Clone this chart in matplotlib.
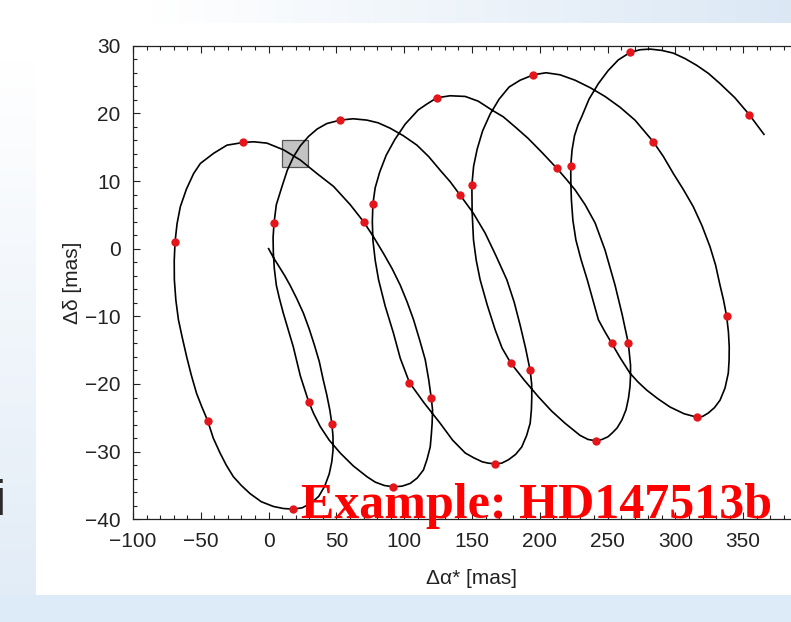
import numpy as np
import matplotlib
matplotlib.use('Agg')
import matplotlib.pyplot as plt
from matplotlib.patches import Rectangle
from matplotlib.ticker import MultipleLocator

# sky path of the star, in mas
path_x = [0.0, 3.8, 7.9, 11.9, 15.8, 20.8, 25.6, 30.0, 33.7, 37.4, 40.3, 42.9, 45.1, 46.7, 47.5, 47.5, 46.6,
          44.7, 41.4, 37.0, 31.5, 24.8, 17.8,
          10.8, 3.5, -5.4, -13.7, -20.1, -26.0, -31.2, -35.8, -40.8, -45.0, -49.2, -53.1, -57.0, -60.4, -63.6,
          -66.5, -68.4, -69.5, -69.6, -69.0, -67.5, -65.1, -60.6, -55.3, -50.3, -40.5, -30.7, -18.6, -11.1, -1.2,
          11.1, 23.4, 35.7, 47.9, 60.2, 70.0, 77.2, 84.7, 91.2, 97.1, 102.2, 106.9, 111.4, 115.5, 118.1, 119.9,
          120.9, 120.6, 120.0, 119.2, 116.9, 114.2, 109.6, 104.4, 98.5, 92.1,
          85.3, 78.6, 72.5, 62.4, 52.8, 44.7, 38.1, 33.3, 29.5, 23.4, 18.2, 14.5, 10.8, 7.9, 5.7, 4.2, 3.5, 3.3,
          4.0, 5.7, 9.9, 13.8, 18.4, 23.4, 29.5, 35.9, 43.0, 52.8, 62.4, 72.5, 80.8, 89.7, 99.3, 109.4, 118.1,
          126.5, 133.9, 141.3, 150.8, 159.7, 167.8, 175.7, 181.1, 185.5, 189.5, 192.9, 194.0, 194.1, 193.8,
          192.9, 190.3, 186.7, 182.2, 176.9, 171.9, 167.1,
          161.9, 157.5, 151.2, 145.0, 135.7, 126.5, 114.7, 103.9, 97.1, 92.1, 86.0, 81.1, 78.6, 76.9, 76.5, 76.9,
          78.6, 81.9, 86.7, 93.0, 100.7, 110.3, 116.9, 124.1, 133.9, 145.0, 154.6, 164.6, 173.0, 181.8, 191.4,
          201.7, 212.5, 219.4, 226.0, 233.4, 240.8, 248.1, 255.5, 260.7, 265.3, 266.9, 266.9, 266.5, 265.4,
          263.6, 260.6, 257.0, 253.6, 250.3, 245.9, 241.5,
          235.6, 229.7, 218.6, 208.7, 199.0, 188.4, 178.6, 172.2, 167.1, 161.2, 156.0, 153.1, 151.1, 150.1, 149.9,
          151.2, 153.8, 157.8, 163.4, 170.0, 177.4, 185.5, 195.3, 204.6, 214.9, 226.0, 237.1, 248.1, 259.2, 270.2,
          283.7, 291.2, 298.5, 306.0, 313.2, 319.6, 325.5, 329.6, 332.9, 335.5, 337.8, 339.1, 339.7, 339.6,
          339.0, 336.6, 332.9, 328.8, 324.2, 320.0, 315.7,
          306.4, 296.0, 287.2, 278.8, 272.4, 266.5, 259.5, 253.1, 247.8, 243.2, 239.2, 235.0, 230.4, 226.6, 224.4,
          223.3, 222.9, 222.8, 223.8, 225.6, 228.2, 230.9, 236.3, 243.2, 250.3, 257.9, 266.5, 273.9, 281.3, 290.1,
          298.5, 307.1, 315.7, 324.4, 332.9, 343.9, 354.5, 365.3]
path_y = [0.0, -1.4, -2.7, -4.0, -5.4, -7.4, -9.5, -11.9, -14.2, -16.7, -19.4, -21.6, -23.8, -25.9, -27.8, -29.8, -31.5,
          -33.3, -35.1, -36.6, -37.6, -38.3, -38.5,
          -38.4, -38.1, -37.4, -36.2, -35.0, -33.7, -32.0, -30.2, -28.0, -25.4, -23.4, -21.4, -18.7, -16.0, -13.2,
          -10.5, -7.6, -4.6, -1.8, 1.0, 3.7, 6.2, 8.8, 11.1, 12.6, 14.1, 15.3, 15.7, 15.8, 15.6,
          14.6, 13.1, 11.1, 9.2, 6.5, 4.0, 1.8, -0.7, -3.0, -5.4, -7.9, -10.5, -13.5, -16.4, -19.4, -22.0,
          -23.8, -25.8, -27.5, -29.3, -31.1, -32.7, -33.9, -34.7, -35.1, -35.2,
          -35.0, -34.5, -33.7, -32.1, -30.2, -28.3, -26.3, -24.4, -22.6, -18.8, -14.5, -12.0, -9.5, -7.3, -5.4, -2.9, -0.6, 1.6,
          3.8, 6.5, 9.2, 11.6, 13.6, 15.2, 16.6, 17.7, 18.5, 19.0, 19.2, 19.0, 18.6, 17.8, 16.7, 15.3, 13.6,
          11.6, 9.9, 7.9, 5.3, 2.3, -1.1, -4.6, -7.9, -11.3, -14.7, -18.0, -20.0, -21.9, -23.8,
          -25.8, -27.6, -29.3, -30.4, -31.2, -31.7, -31.8,
          -31.7, -31.5, -30.9, -30.2, -28.3, -25.8, -22.8, -19.8, -16.2, -12.5, -8.5, -4.6, -1.7, 1.3, 4.0, 6.6,
          9.0, 11.3, 13.8, 16.1, 18.4, 20.5, 21.4, 22.3, 22.6, 22.5, 21.8, 20.5, 19.5, 18.0, 16.3,
          14.2, 11.9, 10.3, 8.7, 6.5, 3.8, -0.2, -5.4, -9.7, -14.0, -17.2, -18.8, -20.4, -22.1,
          -23.8, -25.3, -26.5, -27.2, -27.8, -28.2, -28.4,
          -28.2, -27.6, -25.8, -24.0, -21.9, -19.4, -16.9, -14.7, -12.0, -8.3, -4.6, -1.7, 1.3, 5.4, 9.4,
          12.2, 14.7, 17.4, 19.9, 22.1, 23.9, 24.9, 25.7, 26.0, 25.7, 24.9, 23.8, 22.5, 20.9, 19.0,
          15.8, 13.6, 11.1, 8.7, 6.2, 3.4, 0.3, -2.4, -5.4, -7.6, -10.0, -12.3, -14.5, -16.5,
          -18.4, -20.6, -22.4, -23.5, -24.3, -24.8, -24.9,
          -24.4, -23.4, -22.2, -20.9, -19.7, -18.4, -16.2, -14.0, -12.2, -10.5, -7.6, -4.6, -1.6, 1.3, 4.2,
          7.2, 9.7, 12.2, 14.6, 16.7, 18.3, 19.5, 22.1, 24.4, 26.3, 27.9, 29.0, 29.4, 29.5, 29.3,
          28.9, 28.1, 27.1, 25.9, 24.4, 22.3, 19.8, 16.9]

# observation epochs (red dots)
epoch_x = [-69.0, -18.6, -45.0, 18.0, 46.7, 4.0, 52.8, 70.0, 29.5, 92.1, 119.9, 76.9, 124.1, 103.9, 141.3,
           167.1, 192.9, 149.9, 195.3, 178.6, 212.5, 222.8, 241.5, 253.1, 265.3, 266.5, 283.7, 337.8, 315.7, 354.5]
epoch_y = [1.0, 15.7, -25.4, -38.5, -25.9, 3.8, 19.0, 4.0, -22.6, -35.2, -22.0, 6.6, 22.3, -19.8, 7.9,
           -31.8, -18.0, 9.4, 25.7, -16.9, 11.9, 12.2, -28.4, -14.0, -14.0, 29.0, 15.8, -10.0, -24.9, 19.8]

# grey box
box_x = [9.7, 29.3]
box_y = [12.0, 16.1]

plt.rcParams['font.family'] = ['Liberation Sans', 'DejaVu Sans']

W, H = 791, 622
fig = plt.figure(figsize=(W / 100, H / 100), dpi=100)

# slide background
blue = np.array([0.86, 0.91, 0.96])
img = np.ones((H, W, 3))
xs = np.arange(W)
ys = np.arange(H)
t_top = np.clip((xs - 150) / 640.0, 0, 1)[None, :, None]
img[:23] = 1 - t_top * (1 - blue)
t_left = np.clip((ys - 60) / 560.0, 0, 1)[:, None, None] * 0.85
img[23:595, :36] = (1 - t_left * (1 - blue))[23:595]
img[595:] = blue + 0.01
fig.figimage(np.clip(img, 0, 1), 0, 0, origin='upper', zorder=-10)

ax = fig.add_axes([133 / W, (H - 519.3) / H, (811 - 133) / W, (519.3 - 45.7) / H])
ax.set_facecolor('white')
ax.add_patch(Rectangle((box_x[0], box_y[0]), box_x[1] - box_x[0], box_y[1] - box_y[0],
                       facecolor='#c3c3c3', edgecolor='#555555', lw=0.9, zorder=2))
ax.plot(path_x, path_y, color='black', lw=1.2, zorder=3)
ax.plot(epoch_x, epoch_y, 'o', color='#e4161b', ms=6, mec='none', zorder=4)

ax.set_xlim(-100, 400)
ax.set_ylim(-40, 30)
ax.xaxis.set_major_locator(MultipleLocator(50))
ax.xaxis.set_minor_locator(MultipleLocator(10))
ax.yaxis.set_major_locator(MultipleLocator(10))
ax.yaxis.set_minor_locator(MultipleLocator(2))
ax.tick_params(which='both', direction='in', top=True, right=True, color='#222222', width=0.8)
ax.tick_params(which='major', length=5, labelsize=15, labelcolor='#222222')
ax.tick_params(which='minor', length=3)
ax.tick_params(axis='x', pad=9)
ax.tick_params(axis='y', pad=9)
for s in ax.spines.values():
    s.set_color('#222222')
    s.set_linewidth(0.9)

ax.set_xlabel('Δα* [mas]', fontsize=15, color='#222222', labelpad=13)
ax.set_ylabel('Δδ [mas]', fontsize=15, color='#222222', labelpad=2)

fig.text(301 / W, (H - 518.3) / H, 'Example: HD147513b', color='#ff0000', fontsize=36,
         fontweight='bold', family=['Liberation Serif', 'DejaVu Serif'], va='baseline', ha='left')
fig.text(6 / W, (H - 515) / H, 'i', color='#2b2b2b', fontsize=36, ha='right', va='baseline')

fig.savefig('out.png', dpi=100)
